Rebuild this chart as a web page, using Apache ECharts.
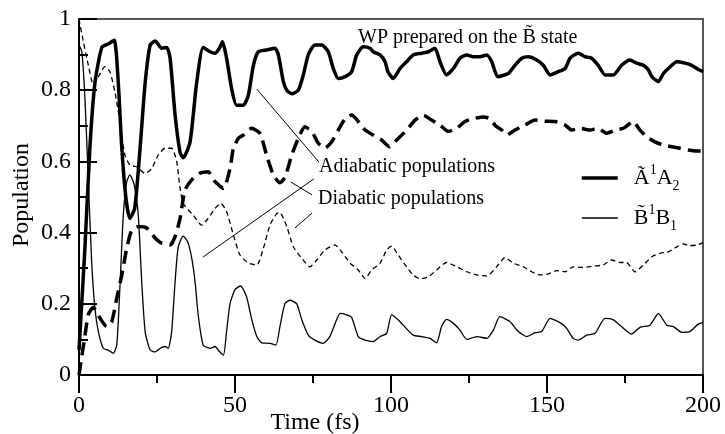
<!DOCTYPE html>
<html><head><meta charset="utf-8">
<script src="https://cdn.jsdelivr.net/npm/echarts@6/dist/echarts.min.js"></script>
<style>html,body{margin:0;padding:0;background:#fff}#c{width:725px;height:434px}</style>
</head><body><div id="c"></div>
<script>
// ---- data ----
const nameA = 'Ã¹A₂';
const nameB = 'B̃¹B₁';

// adiabatic A~ (thick solid)
const tAdiaA = [0,1.9,3.5,5.1,7.3,9.3,11.3,12.6,13.7,15,16.3,17.9,19.6,21.2,22.8,24.4,26.5,28.1,29.2,30.8,32.4,33.4,35.6,37.7,39.8,42,43.6,45,46,47.3,48.9,50.5,52.7,54.3,55.9,57.5,60.1,62.8,63.9,65.5,66.6,68.2,70.3,71.9,73.5,75.6,77.8,79.9,81.5,83.1,85.3,87.4,89,91.1,93.3,94.3,96.5,98.1,99,100.7,102.9,105,107.1,109.8,112,114.1,115.7,117.8,120,122.1,124.3,126.4,128.5,130.7,132.3,134.2,137.6,139.7,141.9,144,146.7,148.8,151,153.6,155.8,157.4,160,162.2,164.3,166.4,168.6,171.3,173.9,176.6,178.7,180.9,182.5,183.6,185.7,187.3,188.9,191.6,194.2,196.4,198,200];
const adiaA = [0.07,0.357,0.64,0.82,0.92,0.93,0.94,0.82,0.64,0.50,0.44,0.47,0.64,0.82,0.927,0.938,0.918,0.92,0.89,0.73,0.625,0.61,0.655,0.82,0.92,0.908,0.904,0.918,0.936,0.89,0.805,0.758,0.758,0.787,0.87,0.908,0.913,0.918,0.899,0.824,0.80,0.79,0.80,0.843,0.9,0.927,0.927,0.908,0.861,0.833,0.838,0.852,0.899,0.922,0.918,0.908,0.899,0.88,0.852,0.833,0.861,0.88,0.899,0.904,0.908,0.918,0.88,0.843,0.861,0.89,0.899,0.894,0.894,0.899,0.88,0.838,0.847,0.87,0.89,0.894,0.885,0.87,0.843,0.852,0.861,0.89,0.904,0.894,0.89,0.87,0.843,0.843,0.87,0.885,0.876,0.87,0.857,0.838,0.824,0.847,0.861,0.88,0.876,0.87,0.861,0.852];

// adiabatic B~ (thin solid)
const tAdiaB = [0,0.9,1.9,3,4.1,5.1,6.2,7.8,9.4,11,12.1,13.1,14.2,15.3,16.3,17.7,19,20.1,21.2,22.8,24.4,26,27.6,28.6,29.7,30.8,31.8,33.4,34.8,36.1,37.2,38.2,39.8,42,43.6,45,46.3,47.3,48.4,50,51.8,53.7,55.4,57,58.6,61.2,63.1,64.4,66,67.6,69.8,71.4,73.5,75.6,78.3,80.4,82.1,83.7,85.8,87.4,89.5,91.7,94.3,96.5,98.6,100.2,102.3,103.9,107.1,109.8,112.5,114.6,116.2,117.8,120,122.1,124.3,127.5,130.7,132.8,134.9,138.1,140.8,143.5,146.2,148.3,151,154.2,156.3,158.4,160,162.7,165.4,168.6,171.3,173.9,177.1,179.8,183,185.7,188.4,190.5,193.2,195.8,198.5,200];
const adiaB = [0.927,0.908,0.778,0.543,0.31,0.188,0.122,0.075,0.07,0.061,0.084,0.244,0.449,0.543,0.562,0.534,0.449,0.262,0.122,0.07,0.065,0.075,0.08,0.075,0.122,0.262,0.36,0.39,0.375,0.33,0.262,0.169,0.084,0.075,0.08,0.066,0.056,0.122,0.2,0.24,0.25,0.22,0.155,0.108,0.09,0.089,0.084,0.136,0.2,0.21,0.2,0.155,0.112,0.098,0.089,0.108,0.145,0.173,0.169,0.162,0.108,0.098,0.094,0.108,0.117,0.169,0.155,0.14,0.112,0.108,0.103,0.09,0.136,0.156,0.145,0.126,0.1,0.108,0.103,0.126,0.164,0.15,0.122,0.108,0.119,0.122,0.159,0.147,0.131,0.103,0.098,0.112,0.117,0.159,0.155,0.136,0.115,0.134,0.14,0.173,0.14,0.136,0.12,0.122,0.143,0.147];

// diabatic A~ (thick dashed)
const tDiaA = [0,1.9,3,4.6,6.7,8.9,10.5,12.1,13.7,15.3,16.9,19,21.7,24.4,26.5,29.2,30.8,32.4,34,36.6,38.8,41.4,43.6,46.3,48.4,49.5,51.1,52.7,55.3,58,60.1,62.3,64.4,66,68.2,70.3,72.4,74.6,76.7,78.8,81,83.1,85.3,87.4,89.5,91.7,94.3,97,99.5,101.8,105,107.7,110.4,113,115.7,118.4,121.1,123.7,126.4,129.6,131.7,133.5,135.5,137.1,139.7,142.9,146.2,149.4,152.6,155.8,157.9,160.6,163.8,166.4,169.1,171.8,174.5,177.6,179.8,182,184.6,187.3,190,192.6,195.3,198,200];
const diaA = [0,0.11,0.17,0.19,0.16,0.136,0.15,0.216,0.28,0.356,0.407,0.417,0.413,0.385,0.37,0.365,0.389,0.44,0.52,0.553,0.567,0.571,0.543,0.524,0.58,0.637,0.665,0.674,0.693,0.679,0.618,0.562,0.54,0.555,0.618,0.665,0.697,0.684,0.651,0.637,0.655,0.688,0.72,0.73,0.712,0.688,0.674,0.66,0.641,0.66,0.688,0.716,0.73,0.716,0.702,0.684,0.693,0.712,0.72,0.725,0.72,0.70,0.688,0.674,0.688,0.702,0.716,0.713,0.712,0.702,0.688,0.693,0.688,0.693,0.679,0.688,0.693,0.712,0.688,0.669,0.655,0.646,0.641,0.637,0.632,0.629,0.629];

// diabatic B~ (thin dashed)
const tDiaB = [0,1.4,3,4.6,6.2,8.3,9.9,11.5,13.1,14.7,16.3,18.5,21.2,23.3,25.4,27.6,29.7,31.3,32.4,33.5,36.6,39.3,41.4,43.6,45.5,47.3,49.5,51.6,54.3,57,59.1,61.2,63.4,64.4,66.6,68.7,71.4,74,76.2,78.8,82.1,84.2,86.9,89.5,91.7,93.8,96.5,98.6,100.2,102.3,105,107.1,109.3,112,114.6,117.8,121.1,124.3,127.5,130.7,133.9,136.5,139.2,142.4,145.1,147.8,150.4,153.1,155.8,158.4,161.6,164.8,168,170.7,173.4,175.5,178.2,180.9,183.6,186.2,188.9,191.6,193.7,195.8,198,200];
const diaB = [1.0,0.936,0.87,0.815,0.838,0.866,0.852,0.796,0.712,0.618,0.59,0.585,0.566,0.58,0.618,0.637,0.637,0.6,0.524,0.48,0.449,0.421,0.44,0.468,0.482,0.459,0.393,0.337,0.314,0.309,0.356,0.421,0.454,0.456,0.417,0.36,0.328,0.304,0.323,0.351,0.365,0.346,0.314,0.295,0.271,0.295,0.314,0.351,0.362,0.337,0.304,0.281,0.27,0.276,0.295,0.316,0.304,0.29,0.281,0.278,0.304,0.33,0.314,0.304,0.29,0.281,0.284,0.293,0.29,0.304,0.302,0.306,0.309,0.323,0.316,0.316,0.29,0.309,0.332,0.342,0.346,0.36,0.368,0.363,0.365,0.372];

// leader lines of the annotations, in data coordinates [time, population]
const leaderLines = [
  [[57.0, 0.803], [76.9, 0.598]],
  [[39.7, 0.331], [75.3, 0.551]],
  [[67.9, 0.542], [74.7, 0.506]],
  [[69.2, 0.413], [74.7, 0.455]]
];

// ---- chart ----
const FONT = 'Liberation Serif';
const pairs = (t, v) => t.map((x, i) => [x, v[i]]);
const chart = echarts.init(document.getElementById('c'));

function lineSeries(name, t, v, width, type, extra) {
  return Object.assign({
    type: 'line', name: name, data: pairs(t, v),
    symbol: 'none', showSymbol: false, smooth: 0.2,
    lineStyle: { color: '#000', width: width, type: type },
    itemStyle: { color: '#000' },
    emphasis: { disabled: true }
  }, extra || {});
}

chart.setOption({
  animation: false,
  backgroundColor: '#fff',
  grid: { left: 79, right: 22, top: 19, bottom: 59, show: true, borderColor: '#555', borderWidth: 2, containLabel: false, outerBoundsMode: 'none' },
  xAxis: {
    type: 'value', min: 0, max: 200, interval: 50,
    axisLine: { show: true, onZero: false, lineStyle: { color: '#000', width: 2 } },
    axisTick: { show: true, inside: false, length: 18, lineStyle: { color: '#000', width: 2 } },
    minorTick: { show: true, splitNumber: 2, length: 8, lineStyle: { color: '#000', width: 2 } },
    splitLine: { show: false },
    axisLabel: { color: '#000', fontFamily: FONT, fontSize: 24, margin: 19 }
  },
  yAxis: {
    type: 'value', min: 0, max: 1, interval: 0.2,
    axisLine: { show: true, onZero: false, lineStyle: { color: '#000', width: 2 } },
    axisTick: { show: true, inside: true, length: 18, lineStyle: { color: '#000', width: 2 } },
    minorTick: { show: true, splitNumber: 2, length: 9, lineStyle: { color: '#000', width: 2 } },
    splitLine: { show: false },
    axisLabel: { color: '#000', fontFamily: FONT, fontSize: 24, margin: 8 }
  },
  legend: {
    orient: 'vertical', left: 580, top: 163, padding: 0, itemGap: 10,
    itemWidth: 36, itemHeight: 14,
    data: [
      { name: nameA, itemStyle: { opacity: 0 }, lineStyle: { width: 3.5, color: '#000', type: 'solid' } },
      { name: nameB, itemStyle: { opacity: 0 }, lineStyle: { width: 1.3, color: '#000', type: 'solid' } }
    ],
    selectedMode: false,
    formatter: function (n) {
      return n === nameA ? '{f|Ã}{sup|1}{m|A}{sub|2}' : '{f|B\u0303}{sup|1}{m|B}{sub|1}';
    },
    textStyle: {
      color: '#000', fontFamily: FONT, fontSize: 22,
      rich: {
        f: { fontFamily: FONT, fontSize: 22, lineHeight: 30, padding: [0, 0, 0, 11], color: '#000' },
        m: { fontFamily: FONT, fontSize: 22, lineHeight: 30, color: '#000' },
        sup: { fontFamily: FONT, fontSize: 14, lineHeight: 15, verticalAlign: 'top', color: '#000' },
        sub: { fontFamily: FONT, fontSize: 14, lineHeight: 10, verticalAlign: 'bottom', color: '#000' }
      }
    }
  },
  graphic: [
    { type: 'text', left: 358, top: 28, silent: true,
      style: { text: 'WP prepared on the B\u0303 state', font: '20px "Liberation Serif"', fill: '#000' } },
    { type: 'text', left: 319, top: 157, silent: true,
      style: { text: 'Adiabatic populations', font: '20px "Liberation Serif"', fill: '#000' } },
    { type: 'text', left: 318, top: 189, silent: true,
      style: { text: 'Diabatic populations', font: '20px "Liberation Serif"', fill: '#000' } },
    { type: 'text', x: 315, y: 423, silent: true,
      style: { text: 'Time (fs)', font: '24px "Liberation Serif"', fill: '#000', align: 'center', verticalAlign: 'middle' } },
    { type: 'text', x: 22, y: 195, rotation: Math.PI / 2, silent: true,
      style: { text: 'Population', font: '24px "Liberation Serif"', fill: '#000', align: 'center', verticalAlign: 'middle' } }
  ],
  series: [
    lineSeries(nameA, tAdiaA, adiaA, 3.5, 'solid', {
      markLine: {
        silent: true, symbol: ['none', 'none'], label: { show: false },
        lineStyle: { color: '#000', width: 1, type: 'solid' },
        emphasis: { disabled: true },
        data: leaderLines.map(l => [{ coord: l[0] }, { coord: l[1] }])
      }
    }),
    lineSeries(nameB, tAdiaB, adiaB, 1.3, 'solid'),
    lineSeries(nameA, tDiaA, diaA, 3.5, [13, 7]),
    lineSeries(nameB, tDiaB, diaB, 1.3, [5, 3.5])
  ]
});
</script></body></html>
